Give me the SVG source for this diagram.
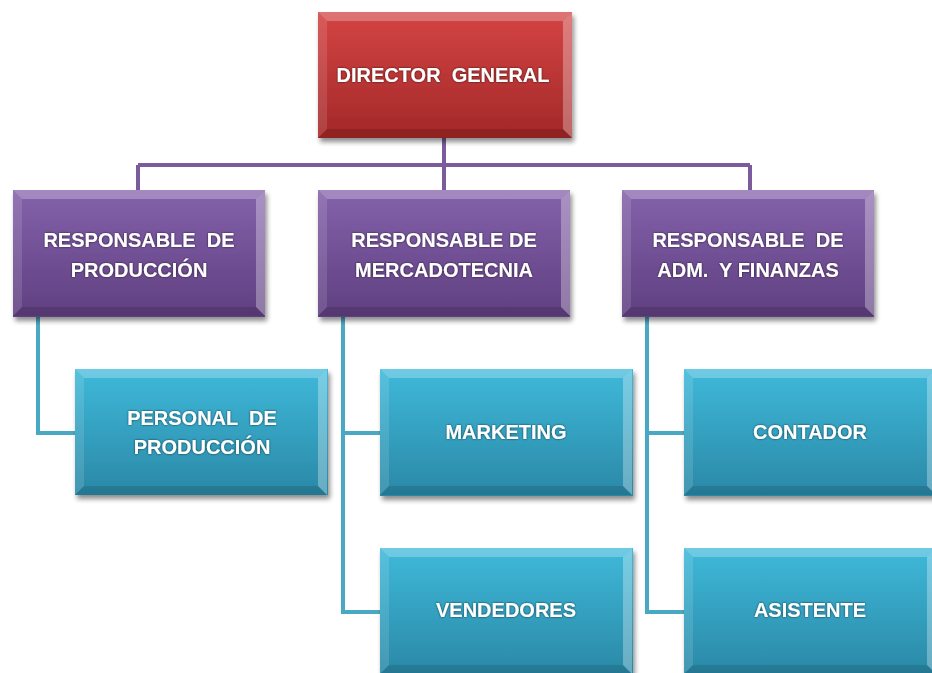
<svg xmlns="http://www.w3.org/2000/svg" xmlns:xlink="http://www.w3.org/1999/xlink" width="932" height="673" viewBox="0 0 932 673">
<style>
.lbl{font-family:"Liberation Sans",Arial,sans-serif;font-weight:bold;font-size:20px;fill:#ffffff;text-anchor:middle;white-space:pre;filter:url(#tsh)}
.cp{fill:none;stroke:#7b5b9c;stroke-width:4}
.ct{fill:none;stroke:#4aa9c2;stroke-width:4}
</style>
<defs>
<linearGradient id="gr" x1="0" y1="0" x2="0" y2="1"><stop offset="0" stop-color="#d44444"/><stop offset="1" stop-color="#a32828"/></linearGradient>
<linearGradient id="gp" x1="0" y1="0" x2="0" y2="1"><stop offset="0" stop-color="#8462ab"/><stop offset="1" stop-color="#5f3f80"/></linearGradient>
<linearGradient id="gt" x1="0" y1="0" x2="0" y2="1"><stop offset="0" stop-color="#3fb9da"/><stop offset="1" stop-color="#2a88a6"/></linearGradient>
<filter id="sh" x="-10%" y="-10%" width="125%" height="130%"><feGaussianBlur in="SourceAlpha" stdDeviation="2.5"/><feOffset dx="2" dy="4"/><feComponentTransfer><feFuncA type="linear" slope="0.45"/></feComponentTransfer><feMerge><feMergeNode/><feMergeNode in="SourceGraphic"/></feMerge></filter>
<filter id="tsh" x="-10%" y="-30%" width="120%" height="160%"><feGaussianBlur in="SourceAlpha" stdDeviation="1"/><feComponentTransfer><feFuncA type="linear" slope="0.7"/></feComponentTransfer><feMerge><feMergeNode/><feMergeNode in="SourceGraphic"/></feMerge></filter>
<g id="bevel">
<polygon points="0,0 252,0 243,9 9,9" fill="#ffffff" opacity="0.25"/>
<polygon points="0,0 9,9 9,117 0,126" fill="#ffffff" opacity="0.12"/>
<polygon points="252,0 252,126 243,117 243,9" fill="#ffffff" opacity="0.3"/>
<polygon points="0,126 9,117 243,117 252,126" fill="#000000" opacity="0.12"/>
</g>
</defs>
<rect width="932" height="673" fill="#ffffff"/>
<g id="connectors">
<path class="cp" d="M444,138 V165 M138,165 H750 M138,165 V190 M444,165 V190 M750,165 V190"/>
<path class="ct" d="M38,317 V433 H75"/>
<path class="ct" d="M343,317 V612 H380 M343,433 H380"/>
<path class="ct" d="M647,317 V612 H684 M647,433 H684"/>
</g>
<g id="director" filter="url(#sh)">
<rect x="318" y="12" width="254" height="126" fill="url(#gr)"/>
<use xlink:href="#bevel" transform="translate(318,12) scale(1.008,1)"/>
<text class="lbl" x="443" y="82" xml:space="preserve">DIRECTOR  GENERAL</text>
</g>
<g id="resp-produccion" filter="url(#sh)">
<rect x="13" y="190" width="252" height="127" fill="url(#gp)"/>
<use xlink:href="#bevel" transform="translate(13,190)"/>
<text class="lbl" x="139" y="247" xml:space="preserve">RESPONSABLE  DE</text>
<text class="lbl" x="139" y="277">PRODUCCIÓN</text>
</g>
<g id="resp-mercadotecnia" filter="url(#sh)">
<rect x="318" y="190" width="252" height="127" fill="url(#gp)"/>
<use xlink:href="#bevel" transform="translate(318,190)"/>
<text class="lbl" x="444" y="247">RESPONSABLE DE</text>
<text class="lbl" x="444" y="277">MERCADOTECNIA</text>
</g>
<g id="resp-finanzas" filter="url(#sh)">
<rect x="622" y="190" width="252" height="127" fill="url(#gp)"/>
<use xlink:href="#bevel" transform="translate(622,190)"/>
<text class="lbl" x="748" y="247" xml:space="preserve">RESPONSABLE  DE</text>
<text class="lbl" x="748" y="277" xml:space="preserve">ADM.  Y FINANZAS</text>
</g>
<g id="personal-produccion" filter="url(#sh)">
<rect x="75" y="369" width="253" height="126" fill="url(#gt)"/>
<use xlink:href="#bevel" transform="translate(75,369)"/>
<text class="lbl" x="202" y="425" xml:space="preserve">PERSONAL  DE</text>
<text class="lbl" x="202" y="454">PRODUCCIÓN</text>
</g>
<g id="marketing" filter="url(#sh)">
<rect x="380" y="369" width="253" height="127" fill="url(#gt)"/>
<use xlink:href="#bevel" transform="translate(380,369)"/>
<text class="lbl" x="506" y="439">MARKETING</text>
</g>
<g id="vendedores" filter="url(#sh)">
<rect x="380" y="548" width="253" height="127" fill="url(#gt)"/>
<use xlink:href="#bevel" transform="translate(380,548)"/>
<text class="lbl" x="506" y="617">VENDEDORES</text>
</g>
<g id="contador" filter="url(#sh)">
<rect x="684" y="369" width="252" height="127" fill="url(#gt)"/>
<use xlink:href="#bevel" transform="translate(684,369)"/>
<text class="lbl" x="810" y="439">CONTADOR</text>
</g>
<g id="asistente" filter="url(#sh)">
<rect x="684" y="548" width="252" height="127" fill="url(#gt)"/>
<use xlink:href="#bevel" transform="translate(684,548)"/>
<text class="lbl" x="810" y="617">ASISTENTE</text>
</g>
</svg>
